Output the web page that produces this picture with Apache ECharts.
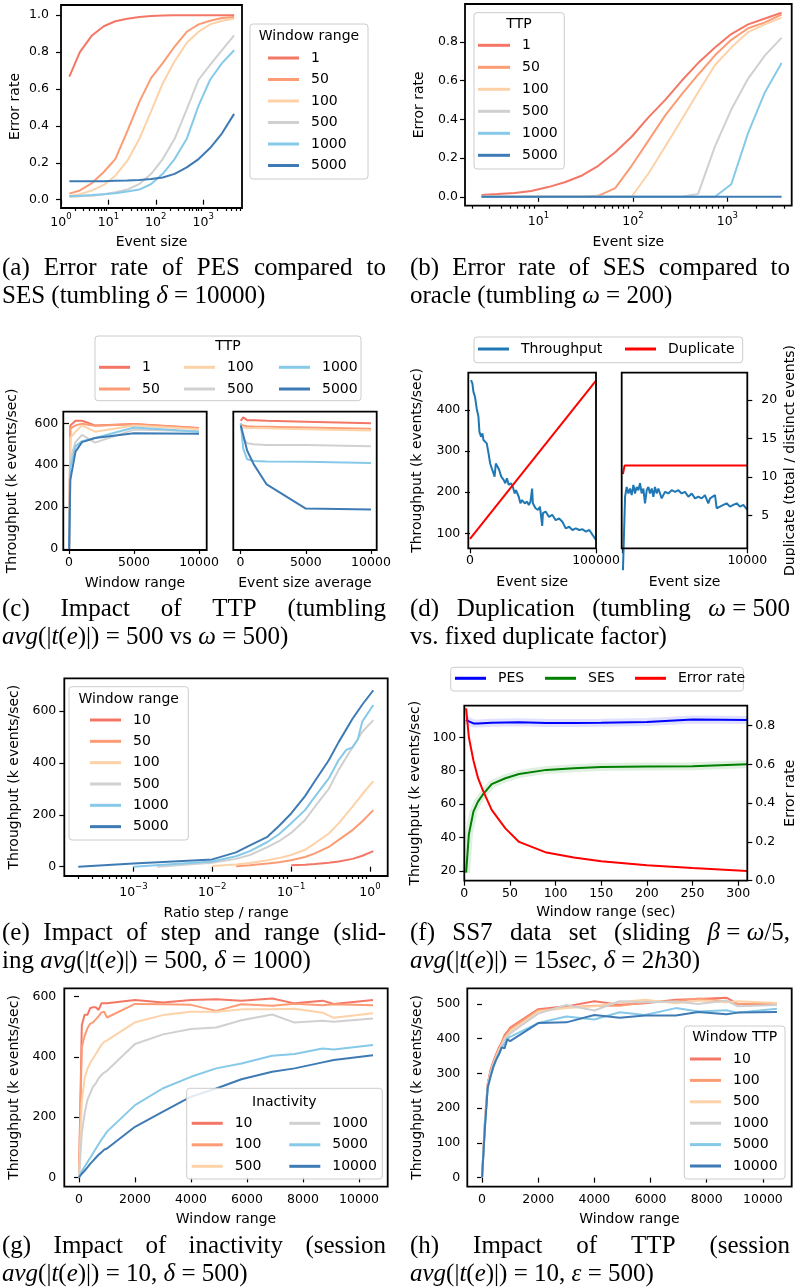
<!DOCTYPE html>
<html>
<head>
<meta charset="utf-8">
<script src="https://cdn.jsdelivr.net/npm/echarts@6/dist/echarts.min.js"></script>
<style>
  html, body { margin: 0; padding: 0; background: #fff; }
  #chart { width: 795px; height: 1287px; }
</style>
</head>
<body>
<div id="chart"></div>
<script>
// ---- (a) error rate of PES compared to SES ----
const aEventSize = [1.5, 2.5, 4.5, 8, 14, 25, 45, 80, 140, 250, 450, 800, 1400, 2500, 4500];
const aWindowRanges = ['1', '50', '100', '500', '1000', '5000'];
const aErr1 = [0.667, 0.80, 0.89, 0.94, 0.967, 0.98, 0.99, 0.995, 0.998, 1.0, 1.0, 1.0, 1.0, 1.0, 1.0];
const aErr50 = [0.033, 0.05, 0.09, 0.15, 0.22, 0.37, 0.53, 0.66, 0.74, 0.83, 0.91, 0.95, 0.97, 0.985, 0.99];
const aErr100 = [0.02, 0.03, 0.05, 0.08, 0.13, 0.21, 0.33, 0.48, 0.63, 0.75, 0.85, 0.91, 0.95, 0.97, 0.98];
const aErr500 = [0.015, 0.018, 0.022, 0.03, 0.04, 0.055, 0.085, 0.14, 0.22, 0.33, 0.49, 0.65, 0.73, 0.81, 0.89];
const aErr1000 = [0.02, 0.022, 0.025, 0.03, 0.035, 0.045, 0.055, 0.085, 0.14, 0.22, 0.33, 0.51, 0.65, 0.74, 0.81];
const aErr5000 = [0.1, 0.1, 0.1, 0.1, 0.102, 0.104, 0.107, 0.112, 0.12, 0.14, 0.175, 0.22, 0.28, 0.36, 0.465];
const aXTicks = [1, 10, 100, 1000];
const aYTicks = [0, 0.2, 0.4, 0.6, 0.8, 1.0];

// ---- (b) error rate of SES compared to oracle ----
const bEventSize = [2.5, 3.7, 5.6, 8.4, 12.7, 19, 29, 43, 65, 97, 146, 220, 330, 490, 740, 1100, 1660, 2500, 3750];
const bTtps = ['1', '50', '100', '500', '1000', '5000'];
const bErr1 = [0.009, 0.014, 0.02, 0.03, 0.05, 0.075, 0.11, 0.16, 0.23, 0.31, 0.41, 0.5, 0.6, 0.69, 0.77, 0.84, 0.89, 0.92, 0.95];
const bErr50 = [0, 0, 0, 0, 0, 0, 0, 0.005, 0.045, 0.16, 0.29, 0.42, 0.53, 0.63, 0.73, 0.81, 0.87, 0.9, 0.94];
const bErr100 = [0, 0, 0, 0, 0, 0, 0, 0, 0, 0, 0.12, 0.26, 0.40, 0.54, 0.68, 0.77, 0.85, 0.89, 0.925];
const bErr500 = [0, 0, 0, 0, 0, 0, 0, 0, 0, 0, 0, 0, 0, 0.015, 0.26, 0.45, 0.61, 0.73, 0.82];
const bErr1000 = [0, 0, 0, 0, 0, 0, 0, 0, 0, 0, 0, 0, 0, 0, 0, 0.065, 0.33, 0.54, 0.69];
const bErr5000 = [0, 0, 0, 0, 0, 0, 0, 0, 0, 0, 0, 0, 0, 0, 0, 0, 0, 0, 0];
const bXTicks = [10, 100, 1000];
const bYTicks = [0, 0.2, 0.4, 0.6, 0.8];

// ---- (c) impact of TTP (tumbling) ----
const cTtps = ['1', '50', '100', '500', '1000', '5000'];
const cWindow = [10, 100, 500, 1000, 2000, 5000, 10000];
const cWinTtp1 = [0, 590, 612, 612, 590, 597, 578];
const cWinTtp50 = [0, 575, 590, 598, 588, 595, 576];
const cWinTtp100 = [0, 530, 560, 590, 560, 590, 572];
const cWinTtp500 = [0, 430, 510, 545, 508, 570, 562];
const cWinTtp1000 = [0, 390, 490, 515, 530, 580, 560];
const cWinTtp5000 = [0, 330, 465, 510, 530, 552, 550];
const cSize = [10, 200, 500, 1000, 2000, 5000, 10000];
const cSizeTtp1 = [612, 628, 615, 614, 612, 608, 600];
const cSizeTtp50 = [595, 590, 586, 585, 584, 580, 574];
const cSizeTtp100 = [588, 580, 578, 577, 576, 572, 566];
const cSizeTtp500 = [600, 525, 505, 500, 497, 496, 490];
const cSizeTtp1000 = [600, 480, 428, 420, 418, 416, 410];
const cSizeTtp5000 = [590, 545, 470, 405, 308, 193, 188];
const cXTicks = [0, 5000, 10000];
const cYTicks = [0, 200, 400, 600];

// ---- (d) duplication ----
const dSizeL = [800, 1900, 2700, 4000, 5300, 6700, 7500, 8800, 9900, 10700, 12000, 13300, 14700, 16000, 17300, 18700, 19500, 20500, 21900, 23200,
  24800, 26700, 28000, 29300, 30700, 32500, 33900, 35500, 36500, 38700, 40000, 41300, 43500, 45300, 46700, 48000, 49300, 49900, 52000, 54100,
  55500, 57300, 57900, 60000, 62700, 65300, 68000, 70700, 73300, 76000, 78700, 81300, 84000, 86700, 89300, 92000, 94700, 97300, 100000];
const dThroughputL = [473, 465, 445, 432, 404, 384, 347, 335, 343, 327, 323, 319, 295, 270, 258, 246, 238, 270, 262, 254,
  238, 230, 222, 234, 218, 222, 214, 197, 205, 189, 173, 181, 173, 177, 169, 177, 209, 173, 161, 157,
  165, 118, 149, 153, 140, 145, 132, 136, 128, 112, 116, 108, 112, 108, 110, 104, 108, 96, 84];
const dDupSizeL = [0, 100000];
const dDupL = [2.0, 22.5];
const dSizeR = [20, 190, 320, 460, 590, 720, 860, 990, 1120, 1260, 1390, 1520, 1660, 1790, 1930, 2060, 2190, 2330, 2460, 2590,
  2730, 2860, 3000, 3130, 3260, 3400, 3660, 3930, 4200, 4470, 4730, 5000, 5270, 5540, 5800, 6070, 6340, 6600, 6870, 7010,
  7140, 7410, 7540, 7810, 8080, 8340, 8610, 8880, 9150, 9410, 9680, 10000];
const dThroughputR = [10, 189, 213, 197, 209, 193, 218, 197, 213, 205, 222, 197, 209, 173, 205, 213, 197, 209, 189, 213,
  197, 209, 205, 185, 193, 201, 197, 205, 201, 205, 197, 201, 189, 197, 185, 189, 185, 193, 173, 185,
  189, 193, 161, 165, 169, 173, 165, 169, 173, 165, 169, 157];
const dDupSizeR = [20, 150, 10000];
const dDupR = [10.4, 11.5, 11.5];
const dXTicksL = [0, 100000];
const dXTicksR = [0, 10000];
const dXLabelsR = [10000];
const dYTicks = [100, 200, 300, 400];
const dDupTicks = [5, 10, 15, 20];

// ---- (e) impact of step and range ----
const eRanges = ['10', '50', '100', '500', '1000', '5000'];
const eRatio10 = [0.1, 0.15, 0.2, 0.3, 0.4, 0.6, 0.8, 1.1];
const eThr10 = [5, 7, 10, 15, 20, 30, 42, 60];
const eRatio50 = [0.02, 0.03, 0.05, 0.07, 0.1, 0.15, 0.2, 0.3, 0.4, 0.6, 0.8, 1.1];
const eThr50 = [2, 5, 12, 17, 25, 37, 51, 76, 103, 141, 175, 218];
const eRatio100 = [0.01, 0.02, 0.03, 0.05, 0.07, 0.1, 0.15, 0.2, 0.3, 0.4, 0.6, 0.8, 1.1];
const eThr100 = [3, 8, 14, 25, 33, 45, 65, 90, 128, 167, 231, 280, 330];
const eRatio500 = [0.002, 0.01, 0.02, 0.03, 0.05, 0.07, 0.1, 0.15, 0.2, 0.3, 0.4, 0.6, 0.8, 1.1];
const eThr500 = [0, 15, 30, 45, 75, 98, 130, 180, 231, 300, 373, 460, 520, 565];
const eRatio1000 = [0.001, 0.01, 0.02, 0.03, 0.05, 0.07, 0.1, 0.15, 0.2, 0.3, 0.4, 0.5, 0.6, 0.7, 0.8, 1.1];
const eThr1000 = [0, 20, 40, 60, 95, 125, 167, 218, 270, 340, 411, 450, 460, 490, 560, 623];
const eRatio5000 = [0.0002, 0.001, 0.01, 0.02, 0.03, 0.05, 0.07, 0.1, 0.15, 0.2, 0.3, 0.4, 0.6, 0.8, 1.1];
const eThr5000 = [0, 12, 28, 55, 82, 115, 157, 205, 272, 330, 410, 480, 570, 625, 680];
const eXTicks = [0.001, 0.01, 0.1, 1];
const eYTicks = [0, 200, 400, 600];

// ---- (f) SS7 data set ----
const fWindow = [2, 5, 10, 15, 20, 30, 45, 60, 90, 120, 150, 200, 250, 310];
const fPes = [110.6, 109.5, 108.3, 108.2, 108.4, 108.7, 108.9, 109, 108.6, 108.6, 108.7, 109.2, 110.6, 110.3];
const fSes = [19, 42, 55.5, 61.5, 65.5, 72, 75.5, 78, 80.5, 81.5, 82.2, 82.5, 82.7, 83.8];
const fErr = [0.89, 0.74, 0.62, 0.53, 0.47, 0.365, 0.27, 0.2, 0.145, 0.12, 0.1, 0.08, 0.065, 0.05];
const fXTicks = [0, 50, 100, 150, 200, 250, 300];
const fYTicks = [20, 40, 60, 80, 100];
const fErrTicks = [0, 0.2, 0.4, 0.6, 0.8];

// ---- (g) impact of inactivity ----
const gInactivity = ['10', '100', '500', '1000', '5000', '10000'];
const gWindow = [0, 100, 200, 300, 400, 500, 600, 700, 800, 900, 1000, 2000, 3000, 4000, 4900, 5800, 6900, 7700, 8700, 9100, 10500];
const gIna10 = [0, 505, 540, 540, 562, 565, 565, 556, 578, 578, 578, 589, 581, 589, 592, 587, 594, 578, 587, 576, 589];
const gIna100 = [0, 432, 470, 495, 510, 515, 525, 535, 548, 550, 531, 576, 575, 573, 553, 575, 570, 577, 572, 575, 572];
const gIna500 = [0, 250, 330, 360, 380, 395, 410, 425, 440, 450, 455, 515, 539, 550, 550, 558, 558, 560, 547, 530, 545];
const gIna1000 = [0, 146, 212, 257, 279, 301, 312, 329, 340, 348, 354, 443, 475, 493, 498, 522, 541, 514, 520, 517, 528];
const gIna5000 = [0, 20, 35, 50, 65, 80, 95, 110, 125, 138, 152, 240, 296, 334, 362, 378, 404, 410, 428, 425, 440];
const gIna10000 = [0, 12, 22, 33, 45, 55, 65, 75, 83, 92, 96, 168, 218, 268, 295, 326, 351, 362, 382, 390, 406];
const gXTicks = [0, 2000, 4000, 6000, 8000, 10000];
const gYTicks = [0, 200, 400, 600];

// ---- (h) impact of TTP (session) ----
const hTtps = ['10', '100', '500', '1000', '5000', '10000'];
const hWindow = [0, 100, 200, 300, 400, 500, 600, 700, 800, 900, 1000, 2000, 3000, 4000, 4900, 5800, 6900, 7700, 8700, 9100, 10500];
const hTtp10 = [0, 160, 270, 310, 335, 355, 375, 390, 410, 420, 432, 485, 493, 508, 498, 502, 512, 514, 518, 500, 500];
const hTtp100 = [0, 155, 268, 305, 330, 350, 370, 385, 405, 415, 428, 482, 490, 495, 495, 505, 508, 516, 508, 500, 502];
const hTtp500 = [0, 150, 265, 300, 328, 348, 368, 383, 400, 410, 420, 478, 488, 493, 505, 512, 502, 510, 505, 508, 503];
const hTtp1000 = [0, 150, 262, 298, 325, 345, 362, 378, 395, 405, 415, 472, 497, 481, 508, 505, 507, 500, 510, 493, 497];
const hTtp5000 = [0, 145, 260, 292, 320, 340, 355, 375, 385, 400, 405, 445, 464, 455, 476, 468, 488, 478, 482, 475, 486];
const hTtp10000 = [0, 140, 258, 290, 318, 339, 355, 375, 372, 398, 393, 445, 447, 468, 460, 467, 467, 477, 470, 475, 477];
const hXTicks = [0, 2000, 4000, 6000, 8000, 10000];
const hYTicks = [0, 100, 200, 300, 400, 500];

// ---- captions ----
const capA1 = ['(a)', 'Error', 'rate', 'of', 'PES', 'compared', 'to'];
const capA2 = 'SES (tumbling {i|δ} = 10000)';
const capB1 = ['(b)', 'Error', 'rate', 'of', 'SES', 'compared', 'to'];
const capB2 = 'oracle (tumbling {i|ω} = 200)';
const capC1 = ['(c)', 'Impact', 'of', 'TTP', '(tumbling'];
const capC2 = '{i|avg}(|{i|t}({i|e})|) = 500 vs {i|ω} = 500)';
const capD1 = ['(d)', 'Duplication', '(tumbling', '{i|ω} = 500'];
const capD2 = 'vs. fixed duplicate factor)';
const capE1 = ['(e)', 'Impact', 'of', 'step', 'and', 'range', '(slid-'];
const capE2 = 'ing {i|avg}(|{i|t}({i|e})|) = 500, {i|δ} = 1000)';
const capF1 = ['(f)', 'SS7', 'data', 'set', '(sliding', '{i|β} = {i|ω}/5,'];
const capF2 = '{i|avg}(|{i|t}({i|e})|) = 15{i|sec}, {i|δ} = 2{i|h}30)';
const capG1 = ['(g)', 'Impact', 'of', 'inactivity', '(session'];
const capG2 = '{i|avg}(|{i|t}({i|e})|) = 10, {i|δ} = 500)';
const capH1 = ['(h)', 'Impact', 'of', 'TTP', '(session'];
const capH2 = '{i|avg}(|{i|t}({i|e})|) = 10, {i|ε} = 500)';

// ================= building the option =================
const SANS = 'DejaVu Sans';
const SERIF = 'Liberation Serif';
const CAP = 25;
const TICK = 12.5;
// matplotlib-ish RdYlBu picks
const PAL = ['#f47766', '#fb9c74', '#fdd2a8', '#d0d0d0', '#86c9e8', '#3e7bb5'];

const grids = [], xAxes = [], yAxes = [], series = [], legends = [], graphics = [];

function addGrid(l, t, w, h) {
  grids.push({ left: l, top: t, width: w, height: h, show: true, borderColor: '#000', borderWidth: 1.8,
    backgroundColor: 'rgba(0,0,0,0)', z: 3, containLabel: false, outerBoundsMode: 'none' });
  return grids.length - 1;
}

function makeAxis(gi, o) {
  return {
    gridIndex: gi, type: o.type || 'value', logBase: 10, min: o.min, max: o.max, position: o.pos,
    name: o.name || '', nameLocation: 'middle', nameGap: o.gap || 0, nameRotate: o.rot,
    nameTextStyle: { fontFamily: SANS, fontSize: 14, color: '#000' },
    axisLine: { show: false },
    axisTick: { show: !!o.ticks, length: o.tickLen || 5, lineStyle: { color: '#000', width: 1.2 }, customValues: o.ticks },
    axisLabel: { show: !!o.labels, customValues: o.labels, formatter: o.fmt || (v => String(v)), fontFamily: SANS, fontSize: TICK,
      color: '#000', margin: o.margin == null ? 8 : o.margin, rich: o.rich, hideOverlap: false },
    splitLine: { show: false }, minorTick: { show: false }, silent: true
  };
}
function addX(gi, o) { xAxes.push(makeAxis(gi, Object.assign({ pos: 'bottom' }, o))); return xAxes.length - 1; }
function addY(gi, o) { yAxes.push(makeAxis(gi, Object.assign({ pos: 'left', rot: 90 }, o))); return yAxes.length - 1; }

function addLine(name, xi, yi, xs, ys, color, extra) {
  series.push(Object.assign({
    type: 'line', name: name, xAxisIndex: xi, yAxisIndex: yi,
    data: xs.map((x, i) => [x, ys[i]]),
    showSymbol: false, symbol: 'none', color: color,
    lineStyle: { color: color, width: 2 }, itemStyle: { color: color },
    animation: false, silent: true, z: 2
  }, extra || {}));
}

function addLegend(names, left, top, gap, extra) {
  legends.push(Object.assign({
    show: true, orient: 'vertical', left: left, top: top, itemGap: gap,
    itemWidth: 31, itemHeight: 3, icon: 'rect', padding: 0, selectedMode: false, z: 6,
    data: names, formatter: n => n.split('|')[1],
    textStyle: { fontFamily: SANS, fontSize: 14, color: '#000', lineHeight: 16, padding: [0, 0, 0, 7] }
  }, extra || {}));
}

function legendBox(x0, y0, x1, y1, title, tx, ty) {
  graphics.push({ type: 'rect', z: 5, shape: { x: x0, y: y0, width: x1 - x0, height: y1 - y0, r: 3 },
    style: { fill: 'rgba(255,255,255,0.85)', stroke: '#cccccc', lineWidth: 1 } });
  if (title) {
    graphics.push({ type: 'text', z: 7, x: tx, y: ty,
      style: { text: title, fontFamily: SANS, fontSize: 14, fill: '#000', align: 'center', verticalAlign: 'middle',
        textAlign: 'center', textVerticalAlign: 'middle' } });
  }
}

function powLabel(v) {
  const e = Math.round(Math.log10(v));
  return '{b|10}{s|' + (e < 0 ? '\u2212' + (-e) : e) + '}';
}
const powRich = {
  b: { fontFamily: SANS, fontSize: TICK, color: '#000', lineHeight: 17, verticalAlign: 'bottom' },
  s: { fontFamily: SANS, fontSize: 8.5, color: '#000', lineHeight: 9, verticalAlign: 'top' }
};
function minorTicks(lo, hi) {
  const out = [];
  for (let d = Math.floor(Math.log10(lo)); d <= Math.ceil(Math.log10(hi)); d++) {
    for (let k = 2; k <= 9; k++) {
      const v = Number((k * Math.pow(10, d)).toPrecision(6));
      if (v >= lo && v <= hi) out.push(v);
    }
  }
  return out;
}
const f1 = v => v.toFixed(1);

// ---- (a) ----
(function () {
  const g = addGrid(61, 5, 181, 203);
  const xi = addX(g, { type: 'log', min: 1, max: 6600, ticks: aXTicks, labels: aXTicks, fmt: powLabel, rich: powRich,
    name: 'Event size', gap: 27, margin: 4 });
  addX(g, { type: 'log', min: 1, max: 6600, ticks: minorTicks(1, 6600), tickLen: 3 });
  const yi = addY(g, { min: -0.045, max: 1.055, ticks: aYTicks, labels: aYTicks, fmt: f1, name: 'Error rate', gap: 39, margin: 12 });
  [aErr1, aErr50, aErr100, aErr500, aErr1000, aErr5000].forEach((ys, k) =>
    addLine('a|' + aWindowRanges[k], xi, yi, aEventSize, ys, PAL[k]));
  legendBox(250, 24, 368, 179, 'Window range', 309, 36);
  addLegend(aWindowRanges.map(n => 'a|' + n), 268, 50, 5.5);
})();

// ---- (b) ----
(function () {
  const g = addGrid(465, 4, 326.7, 201.7);
  const xi = addX(g, { type: 'log', min: 1.67, max: 4800, ticks: bXTicks, labels: bXTicks, fmt: powLabel, rich: powRich,
    name: 'Event size', gap: 30, margin: 6 });
  addX(g, { type: 'log', min: 1.67, max: 4800, ticks: minorTicks(1.67, 4800), tickLen: 3 });
  const yi = addY(g, { min: -0.046, max: 0.995, ticks: bYTicks, labels: bYTicks, fmt: f1, name: 'Error rate', gap: 39, margin: 7 });
  [bErr1, bErr50, bErr100, bErr500, bErr1000, bErr5000].forEach((ys, k) =>
    addLine('b|' + bTtps[k], xi, yi, bEventSize, ys, PAL[k]));
  legendBox(474, 12.7, 564.3, 169, 'TTP', 519, 24);
  addLegend(bTtps.map(n => 'b|' + n), 478, 37.3, 6, { itemWidth: 32 });
})();

// ---- (c) ----
(function () {
  const g1 = addGrid(63.3, 411.7, 143.4, 138.3);
  const x1 = addX(g1, { min: -440, max: 10590, ticks: cXTicks, labels: cXTicks, name: 'Window range', gap: 26, margin: 6 });
  const y1 = addY(g1, { min: -4.8, max: 655.4, ticks: cYTicks, labels: cYTicks, name: 'Throughput (k events/sec)', gap: 44, margin: 5 });
  [cWinTtp1, cWinTtp50, cWinTtp100, cWinTtp500, cWinTtp1000, cWinTtp5000].forEach((ys, k) =>
    addLine('c|' + cTtps[k], x1, y1, cWindow, ys, PAL[k]));
  const g2 = addGrid(233.3, 411.7, 143.4, 138.3);
  const x2 = addX(g2, { min: -560, max: 10440, ticks: cXTicks, labels: cXTicks, name: 'Event size average', gap: 26, margin: 6 });
  const y2 = addY(g2, { min: -4.8, max: 655.4 });
  [cSizeTtp1, cSizeTtp50, cSizeTtp100, cSizeTtp500, cSizeTtp1000, cSizeTtp5000].forEach((ys, k) =>
    addLine('c2|' + cTtps[k], x2, y2, cSize, ys, PAL[k]));
  legendBox(95, 336, 361, 400.7, 'TTP', 228, 346.7);
  addLegend(['c|1', 'c|50'], 99, 359.3, 5.7);
  addLegend(['c|100', 'c|500'], 184, 359.3, 5.7);
  addLegend(['c|1000', 'c|5000'], 279, 359.3, 5.7);
})();

// ---- (d) ----
(function () {
  const blue = '#1f77b4', red = '#ff0000';
  const g1 = addGrid(468.3, 372.7, 127.7, 175.6);
  const x1 = addX(g1, { min: -1340, max: 100000, ticks: dXTicksL, labels: dXTicksL, name: 'Event size', gap: 27, margin: 6 });
  const y1 = addY(g1, { min: 63.5, max: 491, ticks: dYTicks, labels: dYTicks, name: 'Throughput (k events/sec)', gap: 44, margin: 8 });
  const y1r = addY(g1, { min: 0.77, max: 23.54, pos: 'right' });
  addLine('d|Throughput', x1, y1, dSizeL, dThroughputL, blue);
  addLine('d|Duplicate', x1, y1r, dDupSizeL, dDupL, red);
  const g2 = addGrid(621.7, 372.7, 125.6, 175.6);
  const x2 = addX(g2, { min: -80, max: 10000, ticks: dXTicksR, labels: dXLabelsR, name: 'Event size', gap: 27, margin: 6 });
  const y2 = addY(g2, { min: 63.5, max: 491 });
  const y2r = addY(g2, { min: 0.77, max: 23.54, pos: 'right', ticks: dDupTicks, labels: dDupTicks,
    name: 'Duplicate (total / distinct events)', gap: 36, margin: 14 });
  addLine('d2|Throughput', x2, y2, dSizeR, dThroughputR, blue, { clip: false });
  addLine('d2|Duplicate', x2, y2r, dDupSizeR, dDupR, red);
  legendBox(474, 337, 742.7, 362.7);
  addLegend(['d|Throughput'], 478, 341, 0);
  addLegend(['d|Duplicate'], 625, 341, 0);
})();

// ---- (e) ----
(function () {
  const g = addGrid(64.3, 678.3, 323.4, 197.7);
  const xi = addX(g, { type: 'log', min: 0.000133, max: 1.675, ticks: eXTicks, labels: eXTicks, fmt: powLabel, rich: powRich,
    name: 'Ratio step / range', gap: 30, margin: 6 });
  addX(g, { type: 'log', min: 0.000133, max: 1.675, ticks: minorTicks(0.000133, 1.675), tickLen: 3 });
  const yi = addY(g, { min: -36, max: 726, ticks: eYTicks, labels: eYTicks, name: 'Throughput (k events/sec)', gap: 43, margin: 8 });
  const xs = [eRatio10, eRatio50, eRatio100, eRatio500, eRatio1000, eRatio5000];
  [eThr10, eThr50, eThr100, eThr500, eThr1000, eThr5000].forEach((ys, k) =>
    addLine('e|' + eRanges[k], xi, yi, xs[k], ys, PAL[k]));
  legendBox(69, 686.7, 188.3, 840, 'Window range', 128.7, 699.3);
  addLegend(eRanges.map(n => 'e|' + n), 90, 712, 5.33);
})();

// ---- (f) ----
(function () {
  const g = addGrid(464.3, 705.7, 283, 175);
  const xi = addX(g, { min: 0, max: 310, ticks: fXTicks, labels: fXTicks, name: 'Window range (sec)', gap: 25, margin: 7 });
  const yi = addY(g, { min: 14.2, max: 118.9, ticks: fYTicks, labels: fYTicks, name: 'Throughput (k events/sec)', gap: 42, margin: 8 });
  const yr = addY(g, { min: 0, max: 0.903, pos: 'right', ticks: fErrTicks, labels: fErrTicks, fmt: f1, name: 'Error rate', gap: 36, margin: 8 });
  // light bands around the throughput lines
  addLine('f-band-pes', xi, yi, fWindow, fPes, '#0000ff', { lineStyle: { color: '#0000ff', width: 8, opacity: 0.12 }, z: 1 });
  addLine('f-band-ses', xi, yi, fWindow, fSes, '#008000', { lineStyle: { color: '#008000', width: 8, opacity: 0.12 }, z: 1 });
  addLine('f|PES', xi, yi, fWindow, fPes, '#0000ff');
  addLine('f|SES', xi, yi, fWindow, fSes, '#008000');
  addLine('f|Error rate', xi, yr, fWindow, fErr, '#ff0000');
  legendBox(450.7, 667.3, 743.3, 691);
  addLegend(['f|PES'], 455, 670.3, 0);
  addLegend(['f|SES'], 545, 670.3, 0);
  addLegend(['f|Error rate'], 635, 670.3, 0);
})();

// ---- (g) ----
(function () {
  const g = addGrid(64.3, 988.3, 323.4, 198.4);
  const xi = addX(g, { min: -525, max: 11025, ticks: gXTicks, labels: gXTicks, name: 'Window range', gap: 26, margin: 7 });
  const yi = addY(g, { min: -31, max: 628, ticks: gYTicks, labels: gYTicks, name: 'Throughput (k events/sec)', gap: 43, margin: 8 });
  [gIna10, gIna100, gIna500, gIna1000, gIna5000, gIna10000].forEach((ys, k) =>
    addLine('g|' + gInactivity[k], xi, yi, gWindow, ys, PAL[k]));
  legendBox(186.7, 1088.3, 382.3, 1179, 'Inactivity', 284.3, 1102.3);
  addLegend(['g|10', 'g|100', 'g|500'], 191.7, 1115.3, 5.5);
  addLegend(['g|1000', 'g|5000', 'g|10000'], 289.3, 1115.3, 5.5);
})();

// ---- (h) ----
(function () {
  const g = addGrid(467.3, 988.3, 324.4, 198.4);
  const xi = addX(g, { min: -525, max: 11025, ticks: hXTicks, labels: hXTicks, name: 'Window range', gap: 26, margin: 7 });
  const yi = addY(g, { min: -26, max: 545, ticks: hYTicks, labels: hYTicks, name: 'Throughput (k events/sec)', gap: 43, margin: 7 });
  [hTtp10, hTtp100, hTtp500, hTtp1000, hTtp5000, hTtp10000].forEach((ys, k) =>
    addLine('h|' + hTtps[k], xi, yi, hWindow, ys, PAL[k]));
  legendBox(684.3, 1026, 785, 1179, 'Window TTP', 734.7, 1037.7);
  addLegend(hTtps.map(n => 'h|' + n), 690, 1051, 5.4);
})();

// ---- captions (LaTeX-like, first lines justified) ----
const mctx = document.createElement('canvas').getContext('2d');
function measureRich(str) {
  let w = 0;
  str.split(/(\{i\|[^}]*\})/).forEach(seg => {
    if (!seg) return;
    const m = seg.match(/^\{i\|([^}]*)\}$/);
    mctx.font = (m ? 'italic ' : '') + CAP + 'px "' + SERIF + '"';
    w += mctx.measureText(m ? m[1] : seg).width;
  });
  return w;
}
function capText(str, x, y) {
  return { type: 'text', z: 10, x: x, y: y,
    style: { text: str, fontFamily: SERIF, fontSize: CAP, fill: '#000', align: 'left', verticalAlign: 'middle',
      textAlign: 'left', textVerticalAlign: 'middle',
      rich: { i: { fontFamily: SERIF, fontSize: CAP, fontStyle: 'italic', fill: '#000' } } } };
}
function captionJustified(words, x0, x1, y) {
  const widths = words.map(measureRich);
  const total = widths.reduce((a, b) => a + b, 0);
  const gap = (x1 - x0 - total) / (words.length - 1);
  let x = x0;
  words.forEach((w, i) => { graphics.push(capText(w, x, y)); x += widths[i] + gap; });
}
const capRows = [268, 609, 933, 1246];
const capStep = 28;
[[capA1, capA2, capB1, capB2], [capC1, capC2, capD1, capD2], [capE1, capE2, capF1, capF2], [capG1, capG2, capH1, capH2]]
  .forEach((row, r) => {
    const y = capRows[r];
    captionJustified(row[0], 2, 386, y);
    graphics.push(capText(row[1], 2, y + capStep));
    captionJustified(row[2], 410, 790, y);
    graphics.push(capText(row[3], 410, y + capStep));
  });

const chart = echarts.init(document.getElementById('chart'), null, { renderer: 'canvas' });
const option = {
  animation: false,
  backgroundColor: '#fff',
  textStyle: { fontFamily: SANS },
  grid: grids,
  xAxis: xAxes,
  yAxis: yAxes,
  legend: legends,
  series: series,
  graphic: { elements: graphics }
};
option && chart.setOption(option);
</script>
</body>
</html>
